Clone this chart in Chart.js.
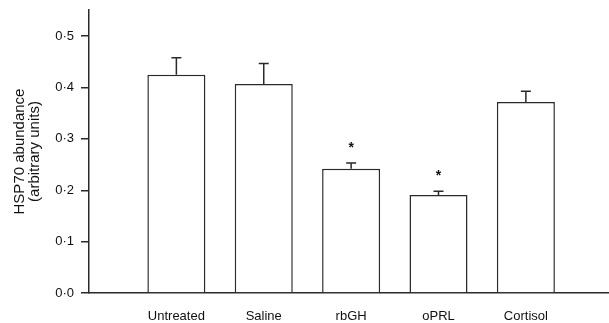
<!DOCTYPE html>
<html>
<head>
<meta charset="utf-8">
<script src="https://cdn.jsdelivr.net/npm/chart.js@4/dist/chart.umd.min.js"></script>
<style>
  html, body { margin: 0; padding: 0; background: #fff; }
  #wrap { width: 609px; height: 323px; position: relative; }
</style>
</head>
<body>
<div id="wrap"><canvas id="c"></canvas></div>
<script>
const categories = ['Untreated', 'Saline', 'rbGH', 'oPRL', 'Cortisol'];
const means = [0.425, 0.407, 0.242, 0.191, 0.372];
const errors = [0.033, 0.040, 0.011, 0.007, 0.021];
const significant = [false, false, true, true, false];
const yTickValues = [0.0, 0.1, 0.2, 0.3, 0.4, 0.5];

const INK = '#2a2a2a';

const errorBarPlugin = {
  id: 'errorBars',
  afterDatasetsDraw(chart) {
    const ctx = chart.ctx;
    const xs = chart.scales.x, ys = chart.scales.y;
    ctx.save();
    ctx.strokeStyle = INK;
    ctx.lineWidth = 1.5;
    ctx.fillStyle = '#111';
    means.forEach((m, i) => {
      const x = xs.getPixelForValue(i + 1);
      const yTop = ys.getPixelForValue(m);
      const yCap = ys.getPixelForValue(m + errors[i]);
      ctx.beginPath();
      ctx.moveTo(x, yTop);
      ctx.lineTo(x, yCap);
      ctx.moveTo(x - 5, yCap);
      ctx.lineTo(x + 5, yCap);
      ctx.stroke();
      if (significant[i]) {
        ctx.font = 'bold 14px "Liberation Sans", Arial, sans-serif';
        ctx.textAlign = 'center';
        ctx.textBaseline = 'middle';
        ctx.fillText('*', x, yCap - 15);
      }
    });
    ctx.restore();
  }
};

new Chart(document.getElementById('c'), {
  type: 'bar',
  data: {
    datasets: [{
      data: categories.map((c, i) => ({ x: i + 1, y: means[i] })),
      backgroundColor: '#ffffff',
      borderColor: INK,
      borderWidth: 1.5,
      borderSkipped: 'bottom',
      barPercentage: 0.664,
      categoryPercentage: 1.0
    }]
  },
  options: {
    responsive: true,
    maintainAspectRatio: false,
    animation: false,
    layout: { padding: { top: 10, right: 1, left: 0, bottom: 0 } },
    plugins: { legend: { display: false }, tooltip: { enabled: false } },
    scales: {
      x: {
        type: 'linear',
        offset: false,
        min: 0,
        max: 5.94,
        grid: { display: false, drawTicks: false },
        border: { display: true, color: INK, width: 1.5 },
        afterBuildTicks(scale) {
          scale.ticks = categories.map((c, i) => ({ value: i + 1 }));
        },
        afterFit(scale) { scale.height = 30; scale.paddingLeft = 0; scale.paddingRight = 0; },
        ticks: {
          autoSkip: false,
          maxRotation: 0,
          padding: 16,
          color: '#111',
          font: { family: '"Liberation Sans", Arial, sans-serif', size: 13 },
          callback: (v) => categories[Math.round(v) - 1] || ''
        }
      },
      y: {
        min: 0,
        max: 0.551,
        afterBuildTicks(scale) {
          scale.ticks = yTickValues.map(v => ({ value: v }));
        },
        afterFit(scale) { scale.width = 89; scale.paddingTop = 0; scale.paddingBottom = 0; },
        grid: { display: true, drawOnChartArea: false, drawTicks: true, tickLength: 8, color: INK, lineWidth: 1.5 },
        border: { display: true, color: INK, width: 1.5 },
        ticks: {
          padding: 7,
          color: '#111',
          font: { family: '"Liberation Sans", Arial, sans-serif', size: 13 },
          callback: (v) => Number(v).toFixed(1).replace('.', '·')
        },
        title: {
          display: true,
          text: ['HSP70 abundance', '(arbitrary units)'],
          color: '#111',
          font: { family: '"Liberation Sans", Arial, sans-serif', size: 15, lineHeight: 1.0 },
          padding: { top: 12, bottom: 0 }
        }
      }
    }
  },
  plugins: [errorBarPlugin]
});
</script>
</body>
</html>
